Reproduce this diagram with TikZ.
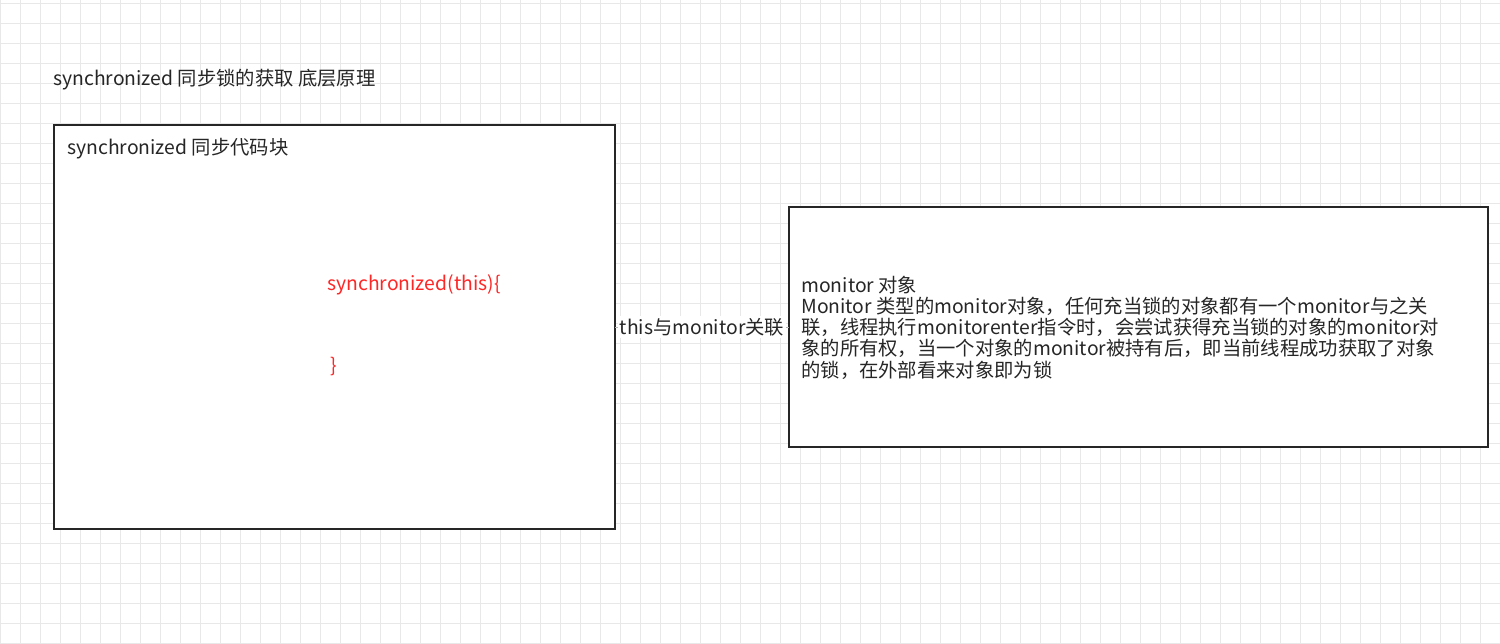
\documentclass[tikz,border=0pt]{standalone}
\usepackage{fontspec}
\setmainfont{Noto Sans CJK SC}
\begin{document}
\begin{tikzpicture}[x=0.02cm,y=-0.02cm,
  txt/.style={font=\fontsize{11pt}{12pt}\selectfont,inner sep=0pt,text=black!85},
  box/.style={draw=black!85,line width=1.3pt}]
\useasboundingbox (0,0) rectangle (1500,643);
\fill[white] (0,0) rectangle (1500,643);
\foreach \x in {0,20,...,1500} \draw[black!9,line width=0.4pt] (\x,0) -- (\x,643);
\foreach \y in {3,23,...,643} \draw[black!9,line width=0.4pt] (0,\y) -- (1500,\y);
\node[txt,anchor=west] (title) at (53,80) {synchronized 同步锁的获取 底层原理};
\draw[box,fill=white] (54,125) rectangle (615,529);
\coordinate (b1) at (615,327);
\node[txt,anchor=west] (l1) at (67,149) {synchronized 同步代码块};
\node[txt,anchor=west,text=red!85] (c1) at (327,285) {synchronized(this)\{};
\node[txt,anchor=west,text=red!85] (c2) at (330,366) {\}};
\draw[box,fill=white] (789,207) rectangle (1488,447);
\coordinate (b2) at (789,327);
\draw[black!30] (b1) -- node[txt,fill=white,inner sep=1pt] {this与monitor关联} (b2);
\node[txt,anchor=north west,align=left] (m) at (801,276) {monitor 对象\\
Monitor 类型的monitor对象，任何充当锁的对象都有一个monitor与之关\\
联，线程执行monitorenter指令时，会尝试获得充当锁的对象的monitor对\\
象的所有权，当一个对象的monitor被持有后，即当前线程成功获取了对象\\
的锁，在外部看来对象即为锁};
\end{tikzpicture}
\end{document}
